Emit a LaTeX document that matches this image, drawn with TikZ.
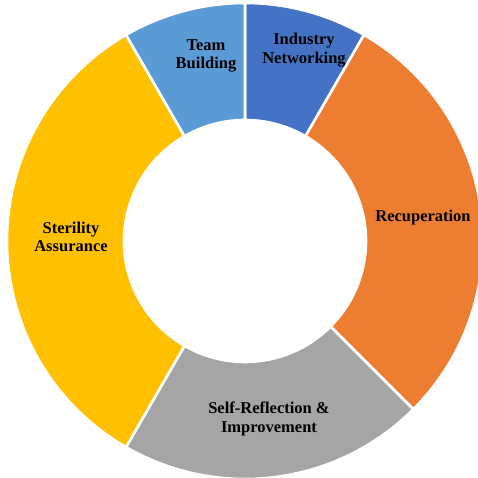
\documentclass[tikz,border=0pt]{standalone}
\usepackage{fontspec}
\setmainfont{Liberation Serif}
\definecolor{cBlue}{HTML}{4472C4}
\definecolor{cOrange}{HTML}{ED7D31}
\definecolor{cGray}{HTML}{A5A5A5}
\definecolor{cYellow}{HTML}{FFC000}
\definecolor{cLight}{HTML}{5B9BD5}
\tikzset{
  seg/.style={draw=white, line width=2.6pt, line join=miter},
  lbl/.style={font=\bfseries\fontsize{16.5}{18.5}\selectfont, align=center, text=black, inner sep=0pt}
}
\newcommand{\ringseg}[3]{%
  \path[seg, fill=#1] ($(C)+(#2:238)$) arc[start angle=#2, end angle=#3, radius=238]
    -- ($(C)+(#3:121)$) arc[start angle=#3, end angle=#2, radius=121] -- cycle;}
\usetikzlibrary{calc}
\begin{document}
\begin{tikzpicture}[x=1pt,y=1pt]
\useasboundingbox (0,0) rectangle (478,478);
\clip (0,0) rectangle (478,478);
\coordinate (C) at (245,237);
\ringseg{cBlue}{90}{60}
\ringseg{cOrange}{60}{-45}
\ringseg{cGray}{-45}{-120}
\ringseg{cYellow}{-120}{-240}
\ringseg{cLight}{120}{90}
\node[lbl] (ind) at (304,428) {Industry\\Networking};
\node[lbl] (team) at (206,422) {Team\\Building};
\node[lbl] (rec) at (423,260) {Recuperation};
\node[lbl] (ster) at (71,241) {Sterility\\Assurance};
\node[lbl] (self) at (269,59) {Self-Reflection \&\\Improvement};
\end{tikzpicture}
\end{document}
